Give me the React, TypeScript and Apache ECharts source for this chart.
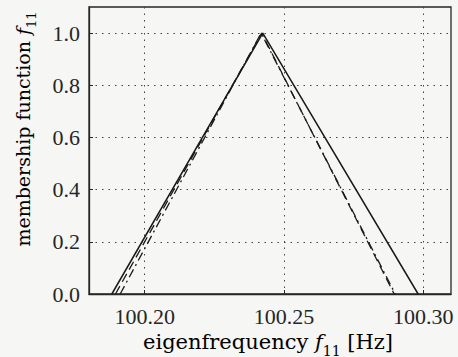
import React, { useEffect, useRef } from "react";
import * as echarts from "echarts";

// Triangular membership functions: [frequency Hz, membership]
const solidX = [100.1882, 100.2424, 100.2982];
const dashedX = [100.1895, 100.2420, 100.2896];
const dashDotX = [100.1912, 100.2418, 100.2900];
const membership = [0, 1, 0];

const xTicks = [100.2, 100.25, 100.3];
const yTicks = [0, 0.2, 0.4, 0.6, 0.8, 1.0];

const FONT = "'Liberation Serif', 'DejaVu Serif', serif";
const NAME_FONT = "'DejaVu Serif', serif";
const INK = "#262626";
const FS = 22;

const pairs = (xs: number[]) => xs.map((x, i) => [x, membership[i]]);

const makeRich = (size: number) => ({
  n: { fontFamily: NAME_FONT, fontSize: size, color: INK },
  i: { fontFamily: NAME_FONT, fontSize: size, fontStyle: "italic", color: INK },
  s: { fontFamily: NAME_FONT, fontSize: Math.round(size * 0.66), color: INK, verticalAlign: "bottom", padding: [0, 0, -5, 0] },
});

export default function App() {
  const ref = useRef<HTMLDivElement>(null);
  useEffect(() => {
    document.body.style.margin = "0";
    const chart = echarts.init(ref.current!, undefined, { renderer: "svg" });
    chart.setOption({
      animation: false,
      backgroundColor: "#f6f6f4",
      grid: {
        left: 89, right: 7, top: 7, bottom: 63,
        outerBoundsMode: "none",
        containLabel: false,
        show: true, borderColor: INK, borderWidth: 1.3, backgroundColor: "transparent",
      },
      xAxis: {
        type: "value",
        min: 100.18,
        max: 100.31,
        axisLine: { show: true, lineStyle: { color: INK, width: 1.3 } },
        axisTick: { show: true, inside: true, length: 4, customValues: xTicks, lineStyle: { color: INK } },
        axisLabel: {
          customValues: xTicks,
          margin: 11,
          fontFamily: FONT,
          fontSize: FS,
          color: INK,
          formatter: (v: number) => v.toFixed(2),
        },
        splitLine: { show: true, lineStyle: { type: [1.5, 5], color: "#444", width: 1 } },
      },
      yAxis: {
        type: "value",
        min: 0,
        max: 1.1,
        axisLine: { show: true, lineStyle: { color: INK, width: 1.3 } },
        axisTick: { show: true, inside: true, length: 4, customValues: yTicks, lineStyle: { color: INK } },
        axisLabel: {
          customValues: yTicks,
          margin: 9,
          fontFamily: FONT,
          fontSize: FS,
          color: INK,
          formatter: (v: number) => v.toFixed(1),
        },
        splitLine: { show: true, lineStyle: { type: [1.5, 5], color: "#444", width: 1 } },
      },
      graphic: [
        {
          type: "text",
          x: 23,
          y: 129,
          rotation: Math.PI / 2,
          style: {
            text: "{n|membership function }{i|f}{s|11}",
            rich: makeRich(19),
            align: "center",
            verticalAlign: "middle",
          },
        },
        {
          type: "text",
          x: 268,
          y: 342,
          style: {
            text: "{n|eigenfrequency }{i|f}{s|11}{n| [Hz]}",
            rich: makeRich(21),
            align: "center",
            verticalAlign: "middle",
          },
        },
      ],
      series: [
        {
          type: "line",
          data: pairs(solidX),
          symbol: "none",
          lineStyle: { color: "#1a1a1a", width: 1.5, type: "solid" },
        },
        {
          type: "line",
          data: pairs(dashedX),
          symbol: "none",
          lineStyle: { color: "#1a1a1a", width: 1.3, type: [9, 5] },
        },
        {
          type: "line",
          data: pairs(dashDotX),
          symbol: "none",
          lineStyle: { color: "#1a1a1a", width: 1.3, type: [9, 4, 2, 4] },
        },
      ],
    });
    return () => chart.dispose();
  }, []);
  return <div ref={ref} style={{ position: "absolute", left: 0, top: 0, width: 458, height: 357 }} />;
}
